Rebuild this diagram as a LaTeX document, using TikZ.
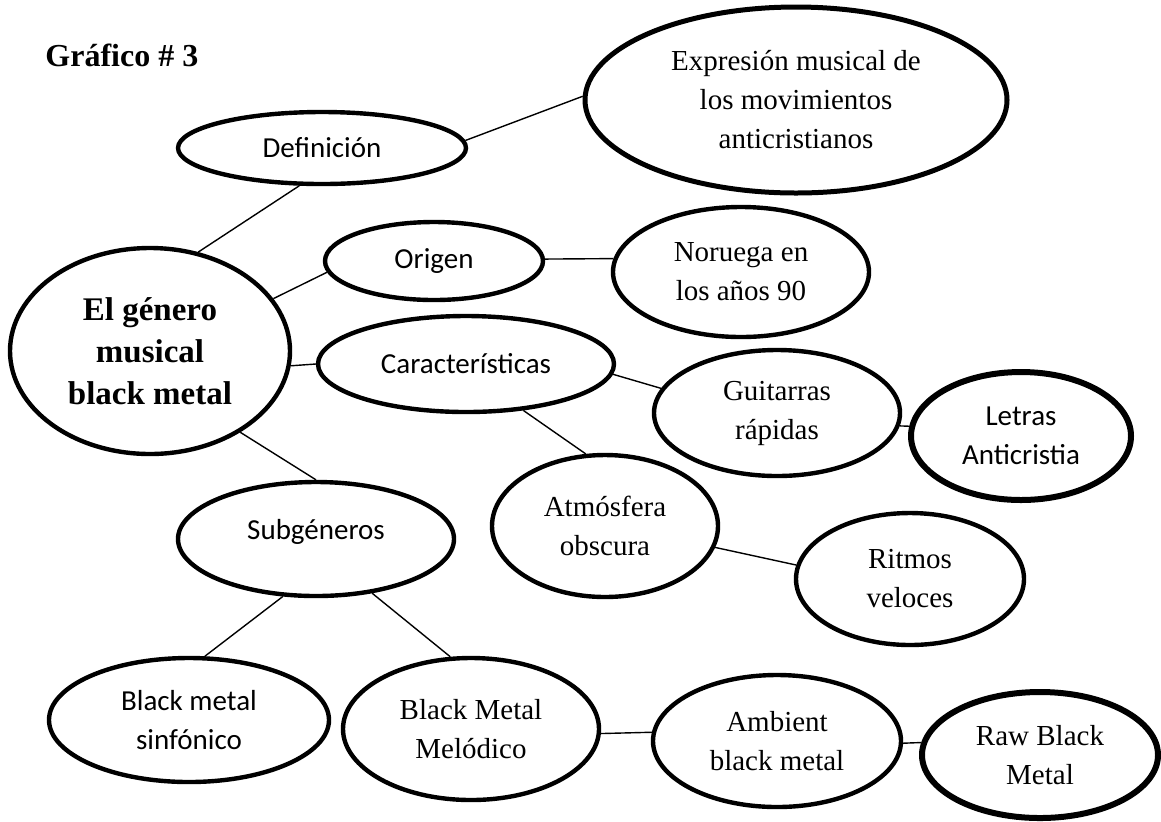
\documentclass[tikz,border=0pt]{standalone}
\usepackage{fontspec}
\setmainfont{Liberation Serif}
\newfontfamily\calibri{Carlito}
\usetikzlibrary{shapes.geometric}

\begin{document}
\begin{tikzpicture}[x=0.5pt, y=-0.5pt,
  bubble/.style={draw, ellipse, inner sep=0pt, align=center, line width=2.2pt}]

\useasboundingbox (0,0) rectangle (1161,821);

% Title
\node[anchor=base west, inner sep=0pt, font=\bfseries\fontsize{16}{19}\selectfont] (title) at (45,66) {Gráfico \# 3};

% Central bubble
\node[bubble, minimum width=140pt, minimum height=103pt, font=\bfseries\fontsize{16.5}{21}\selectfont] (elg) at (150,351) {El género\\musical\\black metal};

% Sans bubbles
\foreach \name/\x/\y/\w/\h/\lw/\txt in {def/322/148/288/72/2.2/Definición,
    orig/434/261/218/78/2.2/Origen,
    car/466/364/296/96/2.2/Características,
    subg/316/539/276/114/2.2/{\raisebox{10pt}{Subgéneros}},
    sinf/189/720/280/124/2.2/{Black metal\\sinfónico},
    letr/1021/436/220/128/3/{Letras\\Anticristia}}
  \node[bubble, line width=\lw pt, minimum width=0.5pt*\w, minimum height=0.5pt*\h, font=\calibri\fontsize{14.5}{19.5}\selectfont] (\name) at (\x,\y) {\txt};

% Serif bubbles
\foreach \name/\x/\y/\w/\h/\lw/\txt in {exp/796/100/422/186/2.5/{Expresión musical de\\los movimientos\\anticristianos},
    noru/741/272/256/130/2.2/{Noruega en\\los años 90},
    guit/777/413/246/126/2.2/{Guitarras\\rápidas},
    atm/605/526/226/142/2.2/{Atmósfera\\obscura},
    ritm/910/579/228/132/2.2/{Ritmos\\veloces},
    melo/471/729/256/142/2.2/{Black Metal\\Melódico},
    amb/777/741/248/132/2.2/{Ambient\\black metal},
    raw/1040/755/236/126/3/{Raw Black\\Metal}}
  \node[bubble, line width=\lw pt, minimum width=0.5pt*\w, minimum height=0.5pt*\h, font=\fontsize{14.5}{19.5}\selectfont] (\name) at (\x,\y) {\txt};

% Links
\foreach \a/\b in {def.3/exp.179, def.239/elg.64, elg.23/orig.186, orig.1/noru.174,
    elg.354/car.180, car.356/guit.168, car.321/atm.105, guit.354/letr.175,
    atm.349/ritm.173, elg.318/subg.90, subg.240/sinf.76, subg.316/melo.106,
    melo.358/amb.176, amb.359/raw.174}
  \draw[line width=0.7pt] (\a) -- (\b);

\end{tikzpicture}
\end{document}
